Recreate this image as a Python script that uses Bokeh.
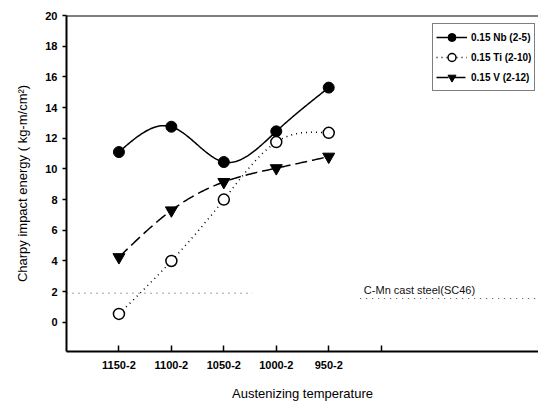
import numpy as np
from bokeh.plotting import figure
from bokeh.models import (FixedTicker, Range1d, Span, Legend, LegendItem, Label)
from bokeh.embed import file_html
from bokeh.resources import INLINE

# ---- data ----
categories = ["1150-2", "1100-2", "1050-2", "1000-2", "950-2"]
nb_values = [11.1, 12.75, 10.45, 12.45, 15.3]
ti_values = [0.55, 4.0, 8.0, 11.75, 12.35]
v_values = [4.25, 7.3, 9.15, 10.05, 10.8]
series_names = ["0.15 Nb (2-5)", "0.15 Ti (2-10)", "0.15 V (2-12)"]
y_ticks = [0, 2, 4, 6, 8, 10, 12, 14, 16, 18, 20]
ref_label = "C-Mn cast steel(SC46)"
ref_level = 1.9

FONT = "Liberation Sans"
xpos = list(range(1, len(categories) + 1))


def natural_spline(xs, ys, n=40):
    xs = np.asarray(xs, float)
    ys = np.asarray(ys, float)
    k = len(xs)
    h = np.diff(xs)
    A = np.zeros((k, k))
    b = np.zeros(k)
    A[0, 0] = 1
    A[-1, -1] = 1
    for i in range(1, k - 1):
        A[i, i - 1] = h[i - 1]
        A[i, i] = 2 * (h[i - 1] + h[i])
        A[i, i + 1] = h[i]
        b[i] = 6 * ((ys[i + 1] - ys[i]) / h[i] - (ys[i] - ys[i - 1]) / h[i - 1])
    M = np.linalg.solve(A, b)
    out_x, out_y = [], []
    for i in range(k - 1):
        t = np.linspace(xs[i], xs[i + 1], n)
        a = xs[i + 1] - t
        c = t - xs[i]
        yy = (M[i] * a ** 3 + M[i + 1] * c ** 3) / (6 * h[i]) \
            + (ys[i] / h[i] - M[i] * h[i] / 6) * a \
            + (ys[i + 1] / h[i] - M[i + 1] * h[i] / 6) * c
        out_x.extend(t.tolist())
        out_y.extend(yy.tolist())
    return out_x, out_y


p = figure(width=538, height=405, output_backend="svg", toolbar_location=None,
           x_range=Range1d(0, 9), y_range=Range1d(-1.9, 20),
           min_border_left=66, min_border_right=0, min_border_top=15,
           min_border_bottom=54)
p.outline_line_color = None
p.background_fill_color = "white"
p.border_fill_color = "white"
p.grid.visible = False

# top frame line
p.add_layout(Span(location=20, dimension="width", line_color="black", line_width=2))

# reference dotted line
p.line([0, 3.55], [ref_level, ref_level], line_color="#444444", line_dash="1 5", line_width=1)
p.line([5.6, 9], [ref_level - 0.35, ref_level - 0.35], line_color="#444444", line_dash="1 5", line_width=1)
p.add_layout(Label(x=5.67, y=ref_level - 0.2, text=ref_label, text_font=FONT,
                   text_font_size="11px", text_color="#111111"))

# series
nx, ny = natural_spline(xpos, nb_values)
tx, ty = natural_spline(xpos, ti_values)
vx, vy = natural_spline(xpos, v_values)

nb_line = p.line(nx, ny, line_color="black", line_width=1.5)
nb_pts = p.scatter(xpos, nb_values, marker="circle", size=11, fill_color="black", line_color="black")

ti_line = p.line(tx, ty, line_color="black", line_width=1.5, line_dash="1 4")
ti_pts = p.scatter(xpos, ti_values, marker="circle", size=11, fill_color="white",
                   line_color="black", line_width=1.5)

v_line = p.line(vx, vy, line_color="black", line_width=1.5, line_dash="12 5")
v_pts = p.scatter(xpos, v_values, marker="inverted_triangle", size=12, fill_color="black", line_color="black")

# axes
p.xaxis.ticker = FixedTicker(ticks=xpos + [6])
overrides = {i: c for i, c in zip(xpos, categories)}
overrides[6] = ""
p.xaxis.major_label_overrides = overrides
p.xaxis.minor_tick_line_color = None
p.xaxis.major_tick_in = 6
p.xaxis.major_tick_out = 0
p.xaxis.major_label_standoff = 9
p.xaxis.axis_label = "Austenizing temperature"
p.xaxis.axis_label_standoff = 14

p.yaxis.ticker = FixedTicker(ticks=y_ticks)
p.yaxis.minor_tick_line_color = None
p.yaxis.major_tick_in = 0
p.yaxis.major_tick_out = 4
p.yaxis.major_label_standoff = 5
p.yaxis.axis_label = "Charpy impact energy ( kg-m/cm\u00b2)"
p.yaxis.axis_label_standoff = 12

for ax in (p.xaxis, p.yaxis):
    ax.axis_line_width = 2
    ax.axis_line_color = "black"
    ax.major_tick_line_width = 1.5
    ax.major_label_text_font = FONT
    ax.major_label_text_font_size = "11px"
    ax.major_label_text_font_style = "bold"
    ax.major_label_text_color = "black"
    ax.axis_label_text_font = FONT
    ax.axis_label_text_font_size = "13px"
    ax.axis_label_text_font_style = "normal"
    ax.axis_label_text_color = "black"

legend = Legend(items=[
    LegendItem(label=series_names[0], renderers=[nb_line, nb_pts]),
    LegendItem(label=series_names[1], renderers=[ti_line, ti_pts]),
    LegendItem(label=series_names[2], renderers=[v_line, v_pts]),
], location=(366, 260))
legend.label_text_font = FONT
legend.label_text_font_size = "10px"
legend.label_text_font_style = "bold"
legend.label_text_color = "black"
legend.border_line_color = "black"
legend.border_line_width = 1.5
legend.padding = 3
legend.margin = 0
legend.spacing = 0
legend.glyph_width = 31
legend.glyph_height = 20
legend.label_standoff = 4
legend.label_height = 18
legend.background_fill_alpha = 1
p.add_layout(legend)

open("out.html", "w").write(file_html(p, INLINE))
